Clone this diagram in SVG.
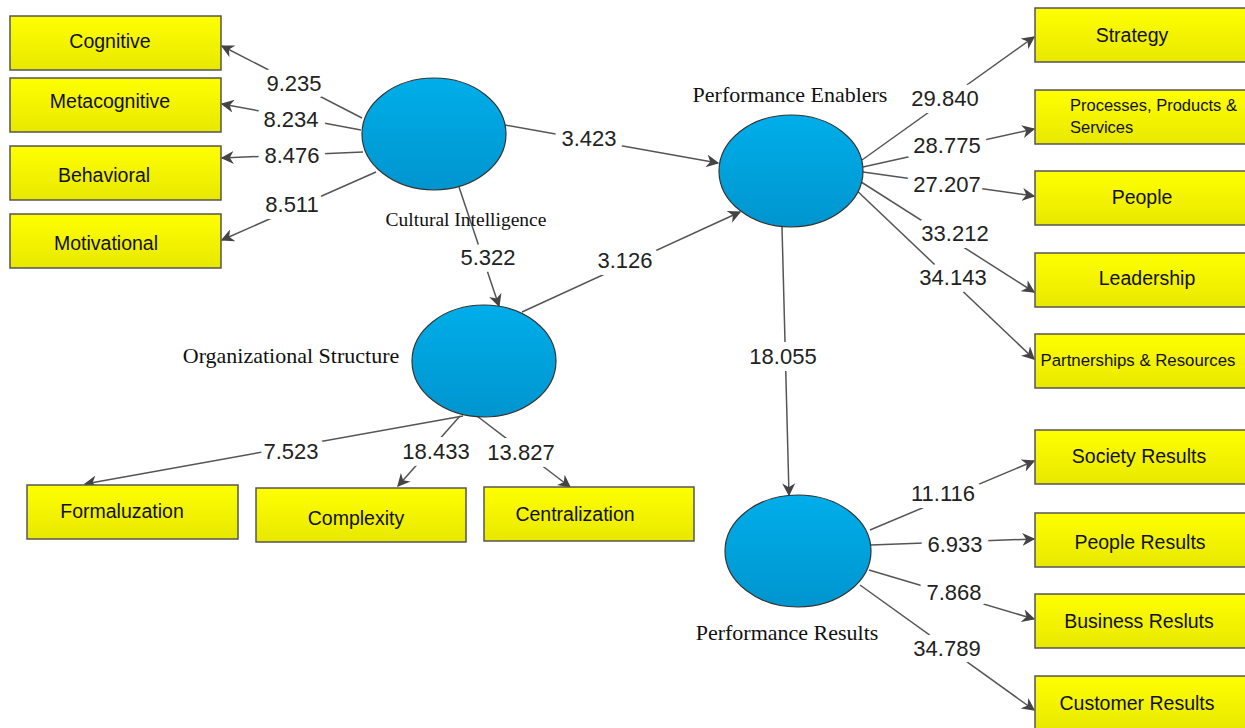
<svg xmlns="http://www.w3.org/2000/svg" width="1245" height="728" viewBox="0 0 1245 728">
<defs>
<linearGradient id="yg" x1="0" y1="0" x2="0" y2="1"><stop offset="0" stop-color="#ffff00"/><stop offset="1" stop-color="#e8e800"/></linearGradient>
<linearGradient id="bg" x1="0" y1="0" x2="0" y2="1"><stop offset="0" stop-color="#00aee9"/><stop offset="1" stop-color="#0095cf"/></linearGradient>
<marker id="ah" viewBox="0 0 10 10" refX="9" refY="5" markerWidth="13" markerHeight="13" markerUnits="userSpaceOnUse" orient="auto"><path d="M0,0 L10,5 L0,10 L3,5 z" fill="#444"/></marker>
</defs>
<style>
.box{fill:url(#yg);stroke:#555;stroke-width:1.5}
.lv{fill:url(#bg);stroke:#333;stroke-width:1.2}
.bt{font-family:"Liberation Sans",Arial,sans-serif;font-size:19.5px;fill:#111;text-anchor:middle}
.lt{font-family:"Liberation Serif","Times New Roman",serif;font-size:22px;fill:#111;text-anchor:middle}
.nl{font-family:"Liberation Sans",Arial,sans-serif;font-size:22px;fill:#222;text-anchor:middle;stroke:#fff;stroke-width:14;paint-order:stroke;stroke-linejoin:round}
.c{stroke:#555;stroke-width:1.5;fill:none;marker-end:url(#ah)}
</style>
<rect width="1245" height="728" fill="#fff"/>
<g id="connectors">
<line class="c" x1="362" y1="118" x2="222" y2="46"/>
<line class="c" x1="361" y1="130" x2="222" y2="104"/>
<line class="c" x1="363" y1="152" x2="222" y2="158"/>
<line class="c" x1="376" y1="172" x2="222" y2="240"/>
<line class="c" x1="505" y1="125" x2="718" y2="163"/>
<line class="c" x1="459" y1="187" x2="499" y2="306"/>
<line class="c" x1="522" y1="312" x2="740" y2="212"/>
<line class="c" x1="782" y1="227" x2="789" y2="495"/>
<line class="c" x1="862" y1="160" x2="1034" y2="37"/>
<line class="c" x1="863" y1="167" x2="1034" y2="129"/>
<line class="c" x1="863" y1="172" x2="1034" y2="196"/>
<line class="c" x1="858" y1="180" x2="1034" y2="292"/>
<line class="c" x1="852" y1="186" x2="1034" y2="359"/>
<line class="c" x1="463" y1="416" x2="85" y2="484"/>
<line class="c" x1="460" y1="416" x2="398" y2="486"/>
<line class="c" x1="477" y1="416" x2="570" y2="487"/>
<line class="c" x1="870" y1="530" x2="1034" y2="461"/>
<line class="c" x1="871" y1="545" x2="1034" y2="539"/>
<line class="c" x1="869" y1="570" x2="1034" y2="619"/>
<line class="c" x1="860" y1="585" x2="1034" y2="710"/>
<g id="connector-labels">
<text class="nl" x="294" y="91">9.235</text>
<text class="nl" x="291" y="127">8.234</text>
<text class="nl" x="292" y="163">8.476</text>
<text class="nl" x="292" y="212">8.511</text>
<text class="nl" x="589" y="146">3.423</text>
<text class="nl" x="488" y="265">5.322</text>
<text class="nl" x="625" y="268">3.126</text>
<text class="nl" x="783" y="364">18.055</text>
<text class="nl" x="945" y="106">29.840</text>
<text class="nl" x="947" y="153">28.775</text>
<text class="nl" x="947" y="192">27.207</text>
<text class="nl" x="955" y="241">33.212</text>
<text class="nl" x="953" y="285">34.143</text>
<text class="nl" x="291" y="459">7.523</text>
<text class="nl" x="436" y="459">18.433</text>
<text class="nl" x="521" y="460">13.827</text>
<text class="nl" x="943" y="501">11.116</text>
<text class="nl" x="955" y="552">6.933</text>
<text class="nl" x="954" y="600">7.868</text>
<text class="nl" x="947" y="656">34.789</text>
</g>
</g>
<g id="ci"><ellipse class="lv" cx="434" cy="134" rx="72" ry="56"/><text class="lt" x="466" y="226" style="font-size:19.5px">Cultural Intelligence</text></g>
<g id="pe"><ellipse class="lv" cx="791" cy="171" rx="72" ry="56"/><text class="lt" x="790" y="102">Performance Enablers</text></g>
<g id="os"><ellipse class="lv" cx="484" cy="361" rx="72" ry="56"/><text class="lt" x="291" y="363">Organizational Structure</text></g>
<g id="pr"><ellipse class="lv" cx="798" cy="551" rx="73" ry="56"/><text class="lt" x="787" y="640">Performance Results</text></g>
<g id="cognitive"><rect class="box" x="10" y="16" width="211" height="54"/><text class="bt" x="110" y="48">Cognitive</text></g>
<g id="metacognitive"><rect class="box" x="10" y="78" width="211" height="54"/><text class="bt" x="110" y="108">Metacognitive</text></g>
<g id="behavioral"><rect class="box" x="10" y="146" width="211" height="54"/><text class="bt" x="104" y="182">Behavioral</text></g>
<g id="motivational"><rect class="box" x="10" y="214" width="211" height="54"/><text class="bt" x="106" y="250">Motivational</text></g>
<g id="strategy"><rect class="box" x="1035" y="8" width="212" height="54"/><text class="bt" x="1132" y="42">Strategy</text></g>
<g id="processes"><rect class="box" x="1035" y="90" width="212" height="54"/><text class="bt" x="1070" y="111" style="font-size:16.5px;text-anchor:start">Processes, Products &amp;</text><text class="bt" x="1070" y="133" style="font-size:16.5px;text-anchor:start">Services</text></g>
<g id="people"><rect class="box" x="1035" y="171" width="212" height="54"/><text class="bt" x="1142" y="204">People</text></g>
<g id="leadership"><rect class="box" x="1035" y="253" width="212" height="54"/><text class="bt" x="1147" y="285">Leadership</text></g>
<g id="partnerships"><rect class="box" x="1035" y="334" width="212" height="54"/><text class="bt" x="1138" y="366" style="font-size:16.8px">Partnerships &amp; Resources</text></g>
<g id="society"><rect class="box" x="1035" y="430" width="212" height="54"/><text class="bt" x="1139" y="463">Society Results</text></g>
<g id="peopleresults"><rect class="box" x="1035" y="513" width="212" height="54"/><text class="bt" x="1140" y="549">People Results</text></g>
<g id="business"><rect class="box" x="1035" y="594" width="212" height="54"/><text class="bt" x="1139" y="628">Business Resluts</text></g>
<g id="customer"><rect class="box" x="1035" y="676" width="212" height="54"/><text class="bt" x="1137" y="710">Customer Results</text></g>
<g id="formalization"><rect class="box" x="27" y="485" width="211" height="54"/><text class="bt" x="122" y="518">Formaluzation</text></g>
<g id="complexity"><rect class="box" x="256" y="488" width="210" height="54"/><text class="bt" x="356" y="525">Complexity</text></g>
<g id="centralization"><rect class="box" x="484" y="487" width="210" height="54"/><text class="bt" x="575" y="521">Centralization</text></g>
</svg>
